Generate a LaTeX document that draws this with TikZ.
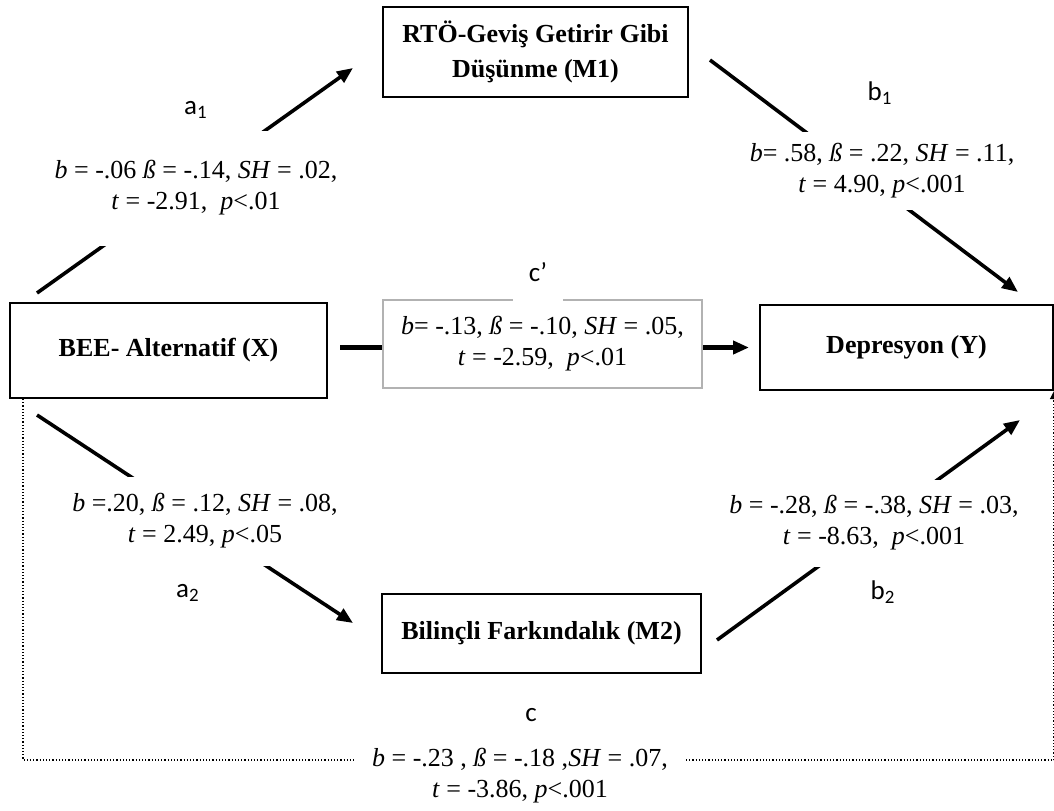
\documentclass[tikz,border=0pt]{standalone}
\usepackage{fontspec}
\setmainfont{Liberation Serif}
\newfontfamily\lblfont{Carlito}
\usetikzlibrary{arrows.meta,calc}
\definecolor{LineClr}{rgb}{0,0,0}
\definecolor{FrameClr}{rgb}{0.7,0.7,0.7}

\begin{document}
\begin{tikzpicture}[x=0.5pt,y=-0.5pt,
  varbox/.style={draw=LineClr,line width=1pt,font=\fontsize{13}{17.5}\selectfont\bfseries,align=center,inner sep=0pt},
  statbox/.style={fill=white,align=center,inner sep=0pt,font=\fontsize{13}{15.5}\selectfont},
  pathlbl/.style={font=\lblfont\fontsize{13.5}{15}\selectfont,inner sep=1pt},
  effect/.style={line width=1.8pt,color=LineClr,-{Triangle[length=8pt,width=6.5pt]}},
  direct/.style={densely dotted,line width=0.6pt,-{Triangle[length=4pt,width=4pt]}}]
\useasboundingbox (0,0) rectangle (1054,810);

\node[varbox,minimum width=158.5pt,minimum height=47.5pt] (X) at (168.5,350.5) {BEE- Alternatif (X)};
\node[varbox,minimum width=152.5pt,minimum height=45pt] (M1) at (535.5,52) {RTÖ-Geviş Getirir Gibi\\Düşünme (M1)};
\node[varbox,minimum width=159.5pt,minimum height=39.5pt] (M2) at (541.5,633.5) {Bilinçli Farkındalık (M2)};
\node[varbox,minimum width=146.5pt,minimum height=42.5pt] (Y) at (906.5,347.5) {Depresyon (Y)};

\coordinate (a1s) at (37,293);
\coordinate (a1e) at (353,68);
\coordinate (b1s) at (710,60);
\coordinate (b1e) at (1018,292);
\coordinate (a2s) at (37,415);
\coordinate (a2e) at (353,623);
\coordinate (b2s) at (717,640);
\coordinate (b2e) at (1020,420);

\draw[effect] (a1s) -- (a1e);
\draw[effect] (b1s) -- (b1e);
\draw[effect] (a2s) -- (a2e);
\draw[effect] (b2s) -- (b2e);
\draw[effect,line width=2.4pt,shorten <=6pt,shorten >=5pt] (X.east |- Y.west) -- (Y.west);
\draw[direct] ([xshift=7pt]X.south west) -- ++(0,361) -| (Y.south east);

\node[statbox,minimum height=57.5pt] (a1stat) at (196,188) {\textit{b} = -.06 \textit{ß} = -.14, \textit{SH} = .02,\\\textit{t} = -2.91,\ \ \textit{p}<.01};
\node[statbox,minimum height=39pt] (b1stat) at (882,171) {\textit{b}= .58, \textit{ß} = .22, \textit{SH} = .11,\\\textit{t} = 4.90, \textit{p}<.001};
\node[statbox,minimum height=44.5pt] (a2stat) at (205,521) {\textit{b} =.20, \textit{ß} = .12, \textit{SH} = .08,\\\textit{t} = 2.49, \textit{p}<.05};
\node[statbox,minimum height=43.5pt] (b2stat) at (874,523) {\textit{b} = -.28, \textit{ß} = -.38, \textit{SH} = .03,\\\textit{t} = -8.63,\ \ \textit{p}<.001};
\node[statbox,draw=FrameClr,line width=0.8pt,minimum width=159.5pt,minimum height=44pt] (cpstat) at (542.5,344) {\textit{b}= -.13, \textit{ß} = -.10, \textit{SH} = .05,\\\textit{t} = -2.59,\ \ \textit{p}<.01};
\node[statbox,minimum width=166pt] (cstat) at (520,776) {\textit{b} = -.23 , \textit{ß} = -.18 ,\textit{SH} = .07,\\\textit{t} = -3.86, \textit{p}<.001};

\node[pathlbl] (a1lbl) at (196,110) {a\textsubscript{1}};
\node[pathlbl] (b1lbl) at (880,93) {b\textsubscript{1}};
\node[pathlbl] (a2lbl) at (188,593) {a\textsubscript{2}};
\node[pathlbl] (b2lbl) at (883,592) {b\textsubscript{2}};
\node[pathlbl,fill=white,minimum width=25pt,minimum height=30pt] (cplbl) at (538,272) {c’};
\node[pathlbl] (clbl) at (531,715) {c};

\end{tikzpicture}
\end{document}
